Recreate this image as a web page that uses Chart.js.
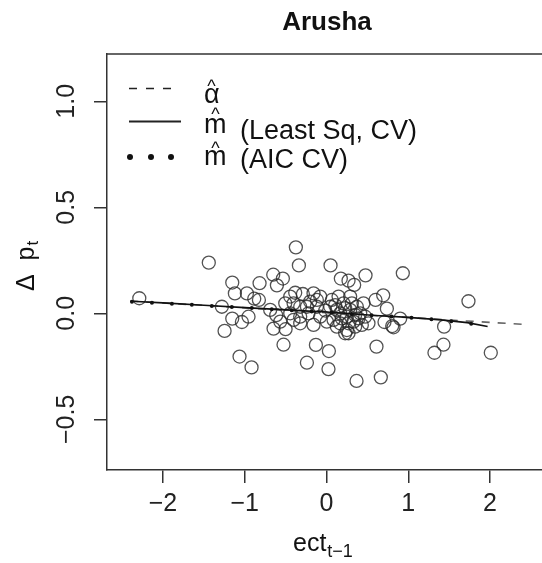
<!DOCTYPE html>
<html>
<head>
<meta charset="utf-8">
<script src="https://cdn.jsdelivr.net/npm/chart.js@4.4.0/dist/chart.umd.min.js"></script>
<style>
html,body{margin:0;padding:0;background:#fff;overflow:hidden;}
#wrap{width:542px;height:563px;position:relative;overflow:hidden;}
canvas{display:block;}
</style>
</head>
<body>
<div id="wrap"><canvas id="c" width="551" height="563"></canvas></div>
<script>
// ---- data ----
const titleText = "Arusha";
const xTicks = [-2, -1, 0, 1, 2];
const yTicks = [-0.5, 0.0, 0.5, 1.0];
const ectX = [-2.29,-1.44,-0.375,-0.338,0.049,0.933,0.477,0.175,0.269,0.338,
  -0.652,-0.534,-0.607,-0.819,-1.153,-1.121,-0.974,-0.884,-0.827,-1.28,
  -1.153,-1.035,-0.954,-1.247,-1.064,-0.917,-0.526,-0.648,-0.501,-0.24,
  -0.13,0.029,0.024,-0.159,0.367,0.664,0.611,1.32,1.43,1.438,
  1.736,2.009,0.693,0.599,0.738,0.901,0.803,0.819,0.709,0.513,
  -0.383,-0.289,-0.159,-0.077,-0.403,-0.322,-0.2,-0.689,-0.615,-0.444,
  -0.403,0.045,0.126,0.208,0.289,0.371,0.249,0.33,0.167,0.249,
  0.086,0.412,0.452,-0.077,-0.016,0.289,0.35,0.228,-0.22,-0.322,
  -0.505,-0.566,0.065,0.147,-0.118,0.167,0.269,0.391,
  0.106,0.187,0.310,0.228,0.350,0.126,0.432,0.004,-0.240,-0.444,
  -0.322,-0.118,0.269,0.473];
const dpY = [0.071,0.239,0.311,0.226,0.226,0.189,0.179,0.164,0.154,0.134,
  0.182,0.164,0.132,0.142,0.145,0.094,0.094,0.069,0.063,0.031,
  -0.025,-0.041,-0.016,-0.083,-0.204,-0.255,-0.148,-0.072,-0.075,-0.233,
  -0.149,-0.178,-0.263,-0.055,-0.319,-0.302,-0.157,-0.186,-0.148,-0.063,
  0.057,-0.186,0.085,0.063,0.022,-0.025,-0.06,-0.066,-0.041,-0.047,
  0.097,0.091,0.094,0.079,0.047,0.031,0.055,0.016,-0.009,0.0,
  -0.031,0.031,0.016,0.047,0.079,0.031,-0.016,-0.039,-0.047,-0.079,
  -0.031,0.0,0.047,-0.016,0.013,0.016,-0.063,-0.094,0.0,-0.016,
  0.047,-0.039,0.063,0.079,0.031,0.0,-0.047,-0.024,
  0.039,-0.024,0.047,0.024,-0.008,-0.063,-0.055,-0.039,0.031,0.079,
  -0.047,0.063,-0.094,-0.016];
const alphaX = [-2.40, 2.40];
const alphaY = [0.058, -0.052];
const mLsX = [-2.38,-2.0,-1.5,-1.0,-0.5,0.0,0.3,0.6,1.0,1.4,1.72,1.97];
const mLsY = [0.057,0.049,0.038,0.027,0.016,0.006,-0.002,-0.010,-0.019,-0.031,-0.044,-0.062];
const mAicX = [-2.38,-2.0,-1.5,-1.0,-0.5,0.0,0.3,0.6,1.0,1.4,1.72,1.97];
const mAicY = [0.054,0.047,0.037,0.027,0.016,0.005,-0.003,-0.011,-0.020,-0.032,-0.045,-0.064];

const pts = (xs, ys) => xs.map((x, i) => ({x: x, y: ys[i]}));
const fmt = v => (v < 0 ? '\u2212' : '') + Math.abs(v);
const fmtY = v => (v < 0 ? '\u2212' : '') + Math.abs(v).toFixed(1);
const FONT = '"Liberation Sans", Arial, sans-serif';

const decor = {
  id: 'decor',
  afterDraw(chart) {
    const ctx = chart.ctx;
    const a = chart.chartArea;
    ctx.save();
    // top border
    ctx.strokeStyle = '#333';
    ctx.lineWidth = 1.5;
    ctx.beginPath();
    ctx.moveTo(a.left, a.top);
    ctx.lineTo(a.right, a.top);
    ctx.stroke();
    ctx.fillStyle = '#111';
    // title
    ctx.font = 'bold 26px ' + FONT;
    ctx.textAlign = 'center';
    ctx.textBaseline = 'alphabetic';
    ctx.fillText(titleText, 327, 30);
    // x axis title
    ctx.textAlign = 'left';
    ctx.font = '25px ' + FONT;
    ctx.fillText('ect', 293, 551);
    const w = ctx.measureText('ect').width;
    ctx.font = '18px ' + FONT;
    ctx.fillText('t\u22121', 293 + w + 1, 557);
    // y axis title
    ctx.save();
    ctx.translate(33.5, 291);
    ctx.rotate(-Math.PI / 2);
    ctx.font = '25px ' + FONT;
    ctx.fillText('\u0394  p', 0, 0);
    const w2 = ctx.measureText('\u0394  p').width;
    ctx.font = '17px ' + FONT;
    ctx.fillText('t', w2 + 1, 4);
    ctx.restore();
    // legend
    ctx.strokeStyle = '#222';
    ctx.lineWidth = 1.5;
    ctx.setLineDash([8, 9]);
    ctx.beginPath(); ctx.moveTo(129, 88.5); ctx.lineTo(177, 88.5); ctx.stroke();
    ctx.setLineDash([]);
    ctx.lineWidth = 2;
    ctx.beginPath(); ctx.moveTo(129, 121.5); ctx.lineTo(181, 121.5); ctx.stroke();
    ctx.fillStyle = '#111';
    [130, 151, 171].forEach(x => { ctx.beginPath(); ctx.arc(x, 157, 3, 0, Math.PI * 2); ctx.fill(); });
    ctx.font = '27px ' + FONT;
    ctx.fillText('\u03b1', 204, 103);
    ctx.fillText('m', 204, 133);
    ctx.fillText('(Least Sq, CV)', 240, 139);
    ctx.fillText('m', 204, 165);
    ctx.fillText('(AIC CV)', 240, 168);
    ctx.font = '18px ' + FONT;
    ctx.textAlign = 'center';
    ctx.fillText('^', 211.5, 92);
    ctx.fillText('^', 215.5, 120);
    ctx.fillText('^', 215.5, 154);
    ctx.restore();
  }
};

new Chart(document.getElementById('c'), {
  type: 'scatter',
  data: {
    datasets: [
      { data: pts(ectX, dpY), pointRadius: 6.5, pointBorderWidth: 1.3,
        pointBorderColor: 'rgba(40,40,40,0.8)', pointBackgroundColor: 'rgba(0,0,0,0)', order: 10 },
      { data: pts(alphaX, alphaY), showLine: true, pointRadius: 0, borderColor: '#666',
        borderWidth: 1.6, borderDash: [8, 8], order: 3 },
      { data: pts(mLsX, mLsY), showLine: true, pointRadius: 0, borderColor: '#111',
        borderWidth: 1.6, order: 2 },
      { data: pts(mAicX, mAicY), showLine: true, pointRadius: 0, borderColor: '#111',
        borderWidth: 4, borderDash: [0, 20], borderCapStyle: 'round', order: 1 }
    ]
  },
  options: {
    responsive: false,
    animation: false,
    events: [],
    layout: { padding: { top: 54, left: 0, right: 0, bottom: 0 } },
    plugins: { legend: { display: false }, tooltip: { enabled: false }, title: { display: false } },
    scales: {
      x: {
        type: 'linear', min: -2.685, max: 2.65,
        afterBuildTicks: s => { s.ticks = xTicks.map(v => ({ value: v })); },
        afterFit: s => { s.height = 93; },
        ticks: { callback: v => fmt(v), font: { size: 25, family: FONT }, color: '#222', padding: 6, maxRotation: 0 },
        grid: { drawOnChartArea: false, drawTicks: true, tickLength: 13, color: '#333', lineWidth: 1.5 },
        border: { display: true, color: '#333', width: 1.5 }
      },
      y: {
        type: 'linear', min: -0.739, max: 1.223,
        afterBuildTicks: s => { s.ticks = yTicks.map(v => ({ value: v })); },
        afterFit: s => { s.width = 107; },
        ticks: { callback: v => fmtY(v), font: { size: 25, family: FONT }, color: '#222', padding: 2,
                 minRotation: 90, maxRotation: 90, crossAlign: 'center' },
        grid: { drawOnChartArea: false, drawTicks: true, tickLength: 13, color: '#333', lineWidth: 1.5 },
        border: { display: true, color: '#333', width: 1.5 }
      }
    }
  },
  plugins: [decor]
});
</script>
</body>
</html>
